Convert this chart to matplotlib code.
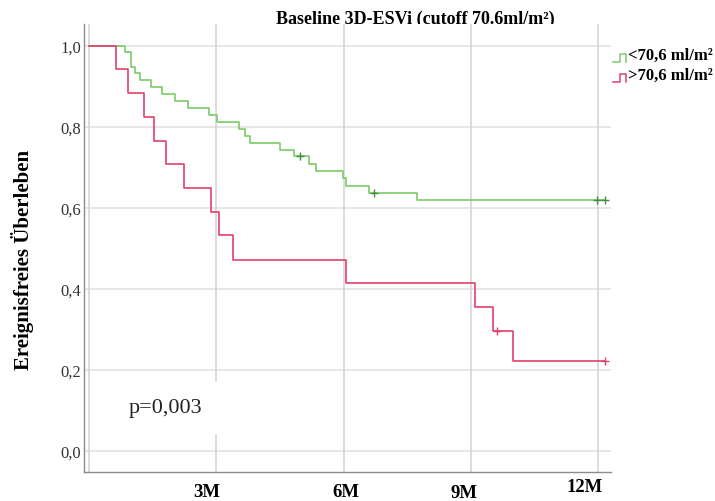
import matplotlib
matplotlib.use("Agg")
import matplotlib.pyplot as plt
from matplotlib.lines import Line2D

plt.rcParams['font.family'] = ['Liberation Serif', 'DejaVu Serif']

# Kaplan-Meier steps, time in months
low_times = [0, 0.85, 0.98, 1.08, 1.21, 1.47, 1.71, 2.03, 2.34, 2.84, 3.01, 3.53,
             3.68, 3.79, 4.50, 4.83, 5.18, 5.34, 5.98, 6.06, 6.61, 7.74, 12.17]
low_surv = [1.0, 0.984, 0.949, 0.933, 0.915, 0.898, 0.881, 0.863, 0.846, 0.829, 0.812, 0.795,
            0.778, 0.760, 0.743, 0.727, 0.709, 0.691, 0.673, 0.655, 0.638, 0.620, 0.620]
low_cens_t = [4.97, 6.73, 11.97, 12.17]
low_cens_s = [0.727, 0.638, 0.620, 0.620]

high_times = [0, 0.64, 0.93, 1.30, 1.53, 1.81, 2.25, 2.88, 3.07, 3.40, 6.06, 9.10, 9.53, 10.0, 12.16]
high_surv = [1.0, 0.942, 0.884, 0.824, 0.766, 0.708, 0.649, 0.590, 0.532, 0.472, 0.414, 0.355,
             0.297, 0.223, 0.223]
high_cens_t = [9.63, 12.16]
high_cens_s = [0.297, 0.223]

labels = ['<70,6 ml/m²', '>70,6 ml/m²']
month_ticks = [3, 6, 9, 12]
month_labels = ['3M', '6M', '9M', '12M']
y_ticks = [0.0, 0.2, 0.4, 0.6, 0.8, 1.0]

green = '#7ccb68'
green_dark = '#3f8f3f'
red = '#e2416b'

W, H = 715, 502
fig = plt.figure(figsize=(W / 100, H / 100), dpi=100)
ax = fig.add_axes([84 / W, 1 - 473 / H, (611 - 84) / W, (473 - 25) / H])

def px(x, y):
    # pixel position -> figure fraction
    return x / W, 1 - y / H

ax.set_xlim(-0.118, 12.306)
ax.set_ylim(-0.052, 1.054)

# grid
for yv in y_ticks:
    ax.axhline(yv, color='#e0e0e0', lw=1.1, zorder=0)
for xv in [0] + month_ticks:
    ax.axvline(xv, color='#d6d6d6', lw=1.2, zorder=0)

ax.step(low_times, low_surv, where='post', color=green, lw=1.2, zorder=3)
ax.plot(low_cens_t, low_cens_s, '+', color=green_dark, ms=6, mew=1, zorder=4)
ax.step(high_times, high_surv, where='post', color=red, lw=1.2, zorder=3)
ax.plot(high_cens_t, high_cens_s, '+', color=red, ms=6, mew=1, zorder=4)

ax.set_yticks(y_ticks)
ax.set_yticklabels([f'{v:.1f}'.replace('.', ',') for v in y_ticks],
                   fontsize=12, color='#333333')
ax.set_xticks([])
ax.tick_params(axis='y', length=0, pad=2)

for s in ['top', 'right']:
    ax.spines[s].set_visible(False)
for s in ['left', 'bottom']:
    ax.spines[s].set_color('#8c8c8c')
    ax.spines[s].set_linewidth(1.0)

fig.text(*px(23, 260), 'Ereignisfreies Überleben', fontsize=15, fontweight='bold',
         rotation=90, ha='center', va='center')

# p value box hides part of the 3M grid line
fig.text(*px(165, 409), 'p=0,003', fontsize=16,
         ha='center', va='center', color='#222222',
         bbox=dict(facecolor='white', edgecolor='none', pad=12))

# month labels placed by hand
label_pos = [(207, 493), (346, 493), (464, 494), (585, 488)]
for (x, y), lab in zip(label_pos, month_labels):
    fig.text(*px(x, y), lab, fontsize=13.5, fontweight='bold', ha='center', va='center')

# drawn below the axes so the plot area trims its lower edge
fig.text(*px(415, 24), 'Baseline 3D-ESVi (cutoff 70.6ml/m²)', fontsize=13,
         fontweight='bold', ha='center', va='baseline', zorder=-1)

# legend with step-shaped keys
for y0, col, lab in [(63, green, labels[0]), (83, red, labels[1])]:
    xs = [613, 620, 620, 626, 626]
    ys = [y0, y0, y0 - 8, y0 - 8, y0]
    fig.add_artist(Line2D([x / W for x in xs], [1 - y / H for y in ys],
                          color=col, lw=1.1, transform=fig.transFigure))
    fig.text(*px(628, y0 - 3), lab, fontsize=12, fontweight='bold',
             ha='left', va='baseline')

fig.savefig('out.png', dpi=100)
